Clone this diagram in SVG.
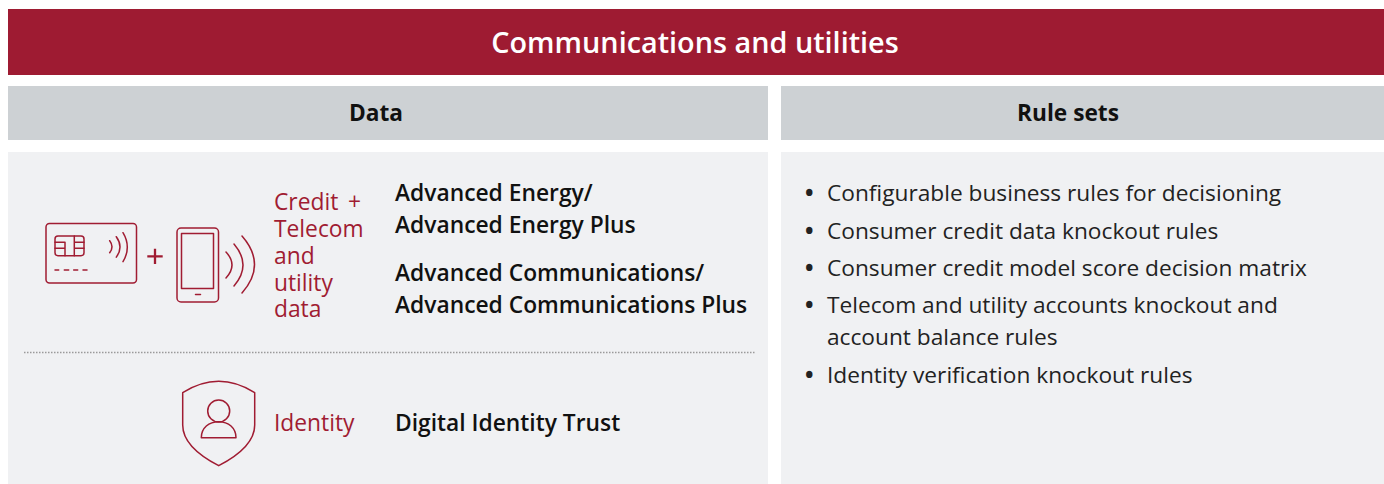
<svg xmlns="http://www.w3.org/2000/svg" width="1384" height="484" viewBox="0 0 1384 484">
<style>
text{font-family:"Open Sans","Noto Sans",sans-serif}
.h{font-size:22.700px;font-weight:700;fill:#111;text-anchor:middle}
.b{font-size:22.800px;font-weight:600;fill:#111}
.r{font-size:22.800px;fill:#a01c32}
.t{font-size:22.700px;fill:#222}
.d{font-size:22.700px;font-weight:700;fill:#222}
.i{fill:none;stroke:#a01c32;stroke-width:1.500;stroke-linecap:round;stroke-linejoin:round}
</style>
<rect width="1384" height="484" fill="#fff"/>
<g id="banner"><rect x="8" y="9" width="1376" height="66" fill="#9e1b32"/>
<text x="695" y="52.500" text-anchor="middle" font-size="28.800" font-weight="600" fill="#fff">Communications and utilities</text></g>
<g id="data-header"><rect x="8" y="86" width="760" height="54" fill="#cdd1d4"/><text class="h" x="376" y="121">Data</text></g>
<g id="rules-header"><rect x="781" y="86" width="603" height="54" fill="#cdd1d4"/><text class="h" x="1068" y="121">Rule sets</text></g>
<g id="data-panel"><rect x="8" y="152" width="760" height="332" fill="#f0f1f3"/>
<line x1="24" y1="352.500" x2="755" y2="352.500" stroke="#9a9a9a" stroke-width="1.500" stroke-dasharray="1.500 1.500"/></g>
<g id="rules-panel"><rect x="781" y="152" width="603" height="332" fill="#f0f1f3"/>
<text class="d" x="805" y="201">•</text><text class="t" x="827" y="201">Configurable business rules for decisioning</text>
<text class="d" x="805" y="239">•</text><text class="t" x="827" y="239">Consumer credit data knockout rules</text>
<text class="d" x="805" y="276">•</text><text class="t" x="827" y="276">Consumer credit model score decision matrix</text>
<text class="d" x="805" y="313">•</text><text class="t" x="827" y="313">Telecom and utility accounts knockout and</text>
<text class="t" x="827" y="345">account balance rules</text>
<text class="d" x="805" y="383">•</text><text class="t" x="827" y="383">Identity verification knockout rules</text></g>
<g id="card-icon" class="i">
<rect x="46" y="223.500" width="90.500" height="59.500" rx="3.500"/>
<rect x="55" y="236" width="29" height="19.700" rx="3"/>
<path d="M55 242.300H65V255.700M55 248.300H65M74.300 236V255.700M74.300 242.300H84M74.300 248.300H84"/>
<path d="M55 270h3.700M64.300 270h4.400M73.700 270h4M83 270h4"/>
<path d="M109.700 240.700q4.600 6 0 12M116.300 236.700q7.400 10.200 0 20.400M123 232.700q8.600 14.500 0 29"/>
</g>
<g id="plus"><path d="M155 248.700v15.300M147.300 256.400h15.400" fill="none" stroke="#a01c32" stroke-width="2.300"/></g>
<g id="phone-icon" class="i">
<rect x="177" y="228" width="41.500" height="74" rx="4"/>
<rect x="181.500" y="233.500" width="32" height="55"/>
<path d="M195.500 294.500h5"/>
<path d="M226 252q12 13 0 26M234 244q18 21 0 42M242 236q25 28.500 0 57"/>
</g>
<g id="credit-label">
<text class="r"><tspan x="274" y="210">Credit</tspan><tspan x="348" y="210">+</tspan><tspan x="274" y="237">Telecom</tspan><tspan x="274" y="264">and</tspan><tspan x="274" y="291">utility</tspan><tspan x="274" y="317">data</tspan></text></g>
<g id="products">
<text class="b"><tspan x="395" y="201">Advanced Energy/</tspan><tspan x="395" y="233">Advanced Energy Plus</tspan></text>
<text class="b"><tspan x="395" y="281">Advanced Communications/</tspan><tspan x="395" y="313">Advanced Communications Plus</tspan></text></g>
<g id="identity-icon" class="i">
<path d="M182.700 392.700Q218.700 370 254.700 392.700V425Q254.700 447 218.700 465.700Q182.700 447 182.700 425Z"/>
<circle cx="218.700" cy="411" r="11"/>
<path d="M201.300 437.700H236C236 428 228.500 421.700 218.700 421.700S201.300 428 201.300 437.700Z"/>
</g>
<g id="identity-label"><text class="r" x="274" y="431">Identity</text>
<text class="b" x="395" y="431">Digital Identity Trust</text></g>
</svg>
